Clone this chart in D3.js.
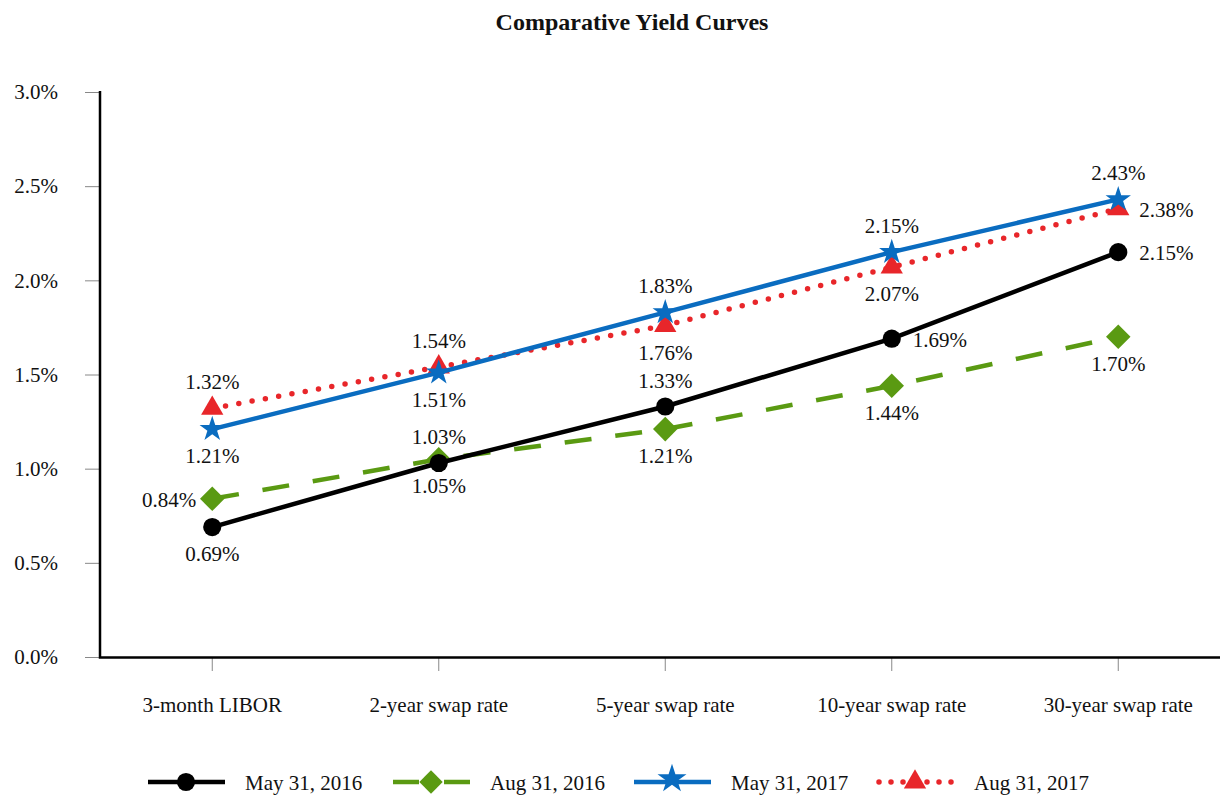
<!DOCTYPE html>
<html><head><meta charset="utf-8">
<script src="https://cdn.jsdelivr.net/npm/d3@7"></script>
<style>body{margin:0;background:#fff}svg{display:block;font-family:"Liberation Serif","Times New Roman",serif}</style>
</head><body>
<svg id="c" width="1220" height="795"></svg>
<script>
const categories = ["3-month LIBOR","2-year swap rate","5-year swap rate","10-year swap rate","30-year swap rate"];
const seriesNames = ["May 31, 2016","Aug 31, 2016","May 31, 2017","Aug 31, 2017"];
const may2016 = [0.69,1.03,1.33,1.69,2.15];
const aug2016 = [0.84,1.05,1.21,1.44,1.70];
const may2017 = [1.21,1.51,1.83,2.15,2.43];
const aug2017 = [1.32,1.54,1.76,2.07,2.38];
const yTicks = [0,0.5,1.0,1.5,2.0,2.5,3.0];
// label placement per point
const place2016a = ["below","above","above","right","right"];
const place2016b = ["left","below","below","below","below"];
const place2017a = ["below","below","above","above","above"];
const place2017b = ["above","above","below","below","right"];

const FS = 21;
const svg = d3.select("#c");
const x = d3.scaleBand().domain(categories).range([99, 1231.5]);
const y = d3.scaleLinear().domain([0,3]).range([657, 92]);
const cx = c => x(c) + x.bandwidth()/2;

svg.append("text").attr("x",632).attr("y",30).attr("text-anchor","middle")
  .attr("font-weight","bold").attr("font-size",24).attr("fill","#111").text("Comparative Yield Curves");

// y axis
const ya = svg.append("g").attr("transform","translate(99,0)")
  .call(d3.axisLeft(y).tickValues(yTicks).tickFormat(d=>d.toFixed(1)+"%").tickSize(14).tickPadding(27));
ya.select(".domain").remove();
ya.selectAll(".tick line").attr("stroke","#888").attr("stroke-width",1);
ya.selectAll(".tick text").attr("font-size",FS).attr("font-family","Liberation Serif").attr("fill","#111");
// x axis
const xa = svg.append("g").attr("transform","translate(0,657)")
  .call(d3.axisBottom(x).tickSize(14).tickPadding(26));
xa.select(".domain").remove();
xa.selectAll(".tick line").attr("stroke","#888").attr("stroke-width",1);
xa.selectAll(".tick text").attr("font-size",FS).attr("font-family","Liberation Serif").attr("fill","#111");
svg.append("path").attr("d","M100,91V657.5H1220").attr("fill","none").attr("stroke","#000").attr("stroke-width",2.5);

const diamond = { draw(ctx, size){ const r=Math.sqrt(size)/2*1.35; ctx.moveTo(0,-r); ctx.lineTo(r,0); ctx.lineTo(0,r); ctx.lineTo(-r,0); ctx.closePath(); } };

const series = [
  {name:seriesNames[0], vals:may2016, color:"#000000", dash:null, w:4.5, sym:d3.symbolCircle, size:260, place:place2016a},
  {name:seriesNames[1], vals:aug2016, color:"#5a9a12", dash:"27,24", w:4.5, sym:diamond, size:330, place:place2016b},
  {name:seriesNames[2], vals:may2017, color:"#0a6cc0", dash:null, w:4.5, sym:d3.symbolStar, size:200, place:place2017a},
  {name:seriesNames[3], vals:aug2017, color:"#e8262a", dash:"0,13.5", w:5.5, sym:d3.symbolTriangle, size:215, place:place2017b},
];
const line = d3.line().x((d,i)=>cx(categories[i])).y(d=>y(d));
const order = [3,2,1,0];
order.forEach(k=>{
  const s = series[k];
  svg.append("path").attr("d",line(s.vals)).attr("fill","none").attr("stroke",s.color)
    .attr("stroke-width",s.w).attr("stroke-dasharray",s.dash).attr("stroke-linecap",s.dash&&s.dash.startsWith("0")?"round":"butt");
  s.vals.forEach((v,i)=>{
    svg.append("path").attr("d",d3.symbol().type(s.sym).size(s.size)())
      .attr("transform",`translate(${cx(categories[i])},${y(v)})`).attr("fill",s.color);
  });
});
series.forEach(s=>{
  s.vals.forEach((v,i)=>{
    const px=cx(categories[i]), py=y(v), p=s.place[i];
    let tx=px, ty=py, anchor="middle";
    if(p==="above"){ty=py-19;}
    else if(p==="below"){ty=py+34;}
    else if(p==="right"){tx=px+21; ty=py+8; anchor="start";}
    else if(p==="left"){tx=px-16; ty=py+8; anchor="end";}
    svg.append("text").attr("x",tx).attr("y",ty).attr("text-anchor",anchor)
      .attr("font-size",FS).attr("fill","#111").text(v.toFixed(2)+"%");
  });
});

// legend
const legX = [148, 393, 634, 877];
series.forEach((s,k)=>{
  const g = svg.append("g").attr("transform",`translate(${legX[k]},782)`);
  const dotted = s.dash&&s.dash.startsWith("0");
  g.append("line").attr("x1",dotted?2:0).attr("x2",dotted?75:77).attr("y1",0).attr("y2",0)
    .attr("stroke",s.color).attr("stroke-width",s.w)
    .attr("stroke-dasharray",s.dash? (dotted?"0,12":"26,25"):null)
    .attr("stroke-linecap",dotted?"round":"butt");
  g.append("path").attr("d",d3.symbol().type(s.sym).size(k===1?300:(k===2?260:s.size))()).attr("transform",`translate(38,${k===2?-3:0})`).attr("fill",s.color);
  g.append("text").attr("x",97).attr("y",8).attr("font-size",FS).attr("fill","#111").text(s.name);
});
</script>
</body></html>
